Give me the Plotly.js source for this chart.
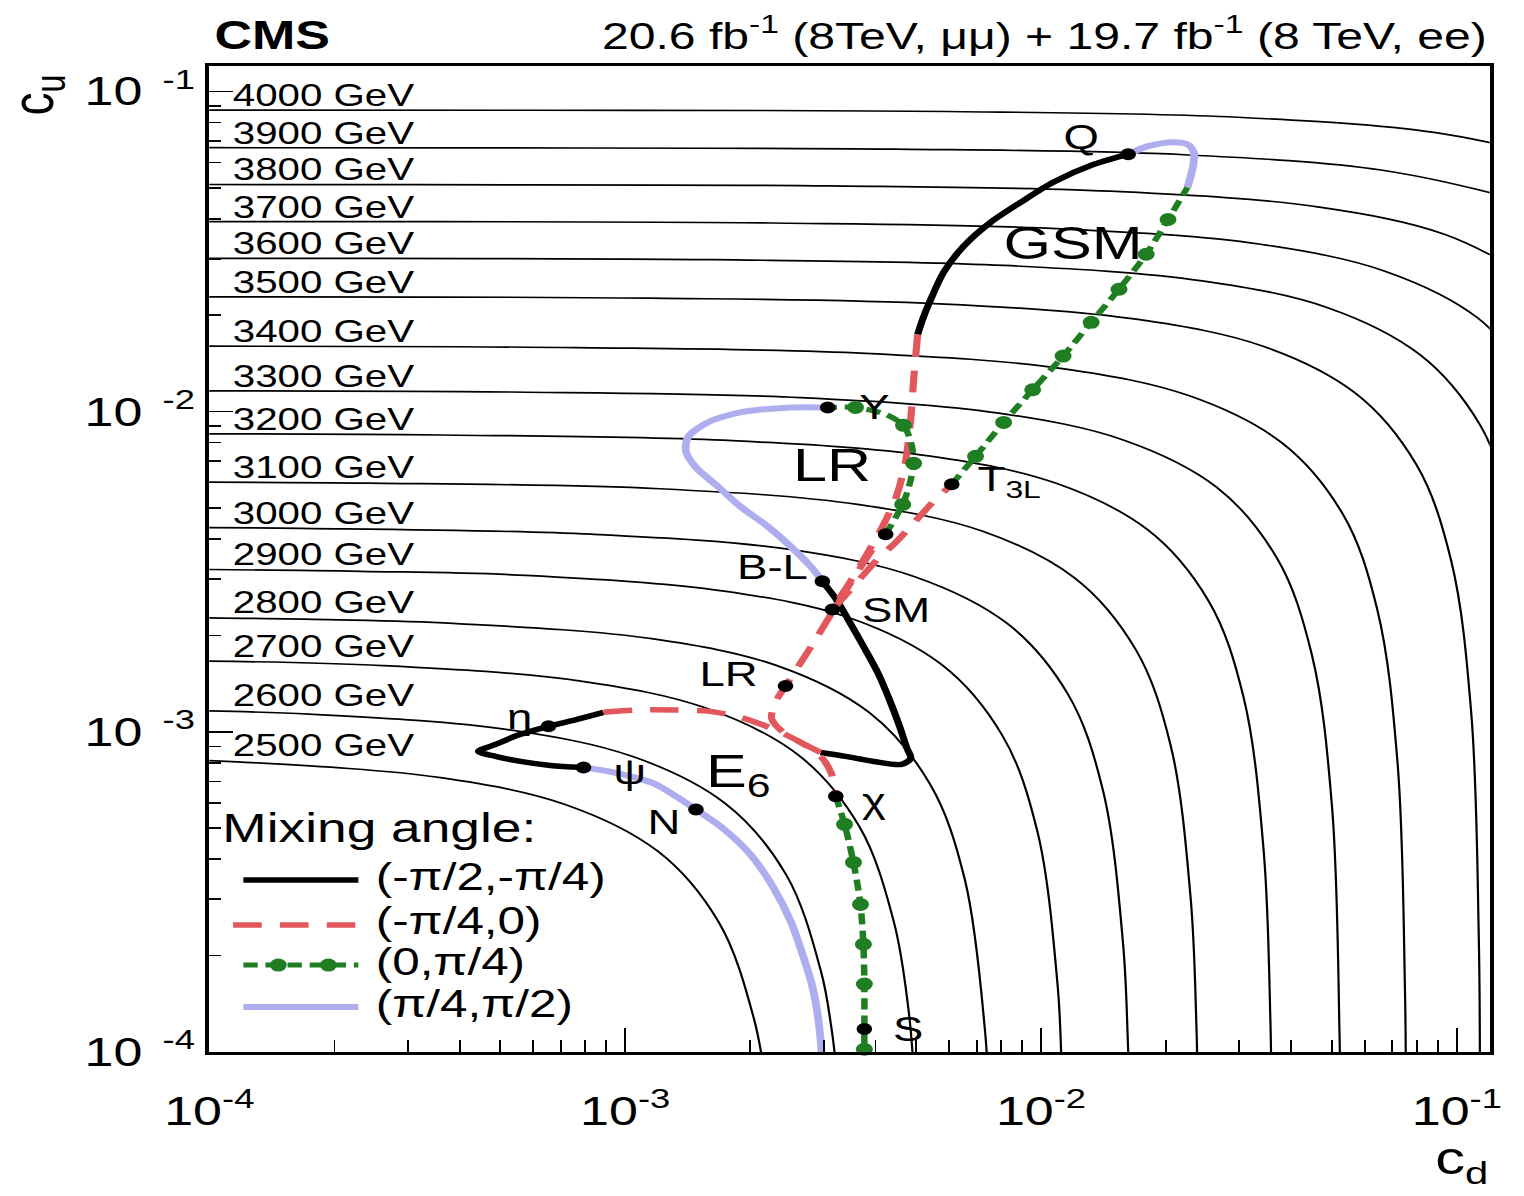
<!DOCTYPE html>
<html>
<head>
<meta charset="utf-8">
<script src="https://cdn.plot.ly/plotly-3.0.1.min.js"></script>
<style>
html, body { margin: 0; padding: 0; background: #ffffff; overflow: hidden; }
#chart { width: 1172px; height: 1196px; transform: scaleX(1.3); transform-origin: 0 0; }
</style>
</head>
<body>
<div id="chart"></div>
<script>
// ---------------- data ----------------
// iso-mass contour lines (c_d, c_u), 4000 GeV ... 2500 GeV
const contourMass = ['4000 GeV','3900 GeV','3800 GeV','3700 GeV','3600 GeV','3500 GeV','3400 GeV','3300 GeV',
                     '3200 GeV','3100 GeV','3000 GeV','2900 GeV','2800 GeV','2700 GeV','2600 GeV','2500 GeV'];
const contourCd = [
  [7.9e-5, 5.93e-4, 5.93e-3, 0.0297, 0.0890, 0.178],
  [7.9e-5, 4.42e-4, 4.42e-3, 0.0221, 0.0663, 0.133],
  [7.9e-5, 3.11e-4, 3.11e-3, 0.01555, 0.0467, 0.0933, 0.1555],
  [7.9e-5, 2.25e-4, 2.25e-3, 0.01123, 0.0337, 0.0674, 0.1123, 0.157],
  [7.9e-5, 1.63e-4, 1.63e-3, 8.15e-3, 0.0244, 0.0489, 0.0815, 0.1140, 0.1385],
  [7.9e-5, 1.14e-3, 5.70e-3, 0.0171, 0.0342, 0.0570, 0.0798, 0.0969, 0.1083, 0.1129, 0.1136],
  [7.9e-5, 7.58e-4, 3.79e-3, 0.01137, 0.02274, 0.0379, 0.0531, 0.0644, 0.0720, 0.0750, 0.0754],
  [7.9e-5, 5.28e-4, 2.64e-3, 7.91e-3, 0.01583, 0.02638, 0.0369, 0.0448, 0.0501, 0.0522, 0.0524],
  [7.9e-5, 3.61e-4, 1.81e-3, 5.42e-3, 0.01084, 0.01807, 0.0253, 0.0307, 0.0343, 0.0356, 0.0358],
  [7.9e-5, 2.41e-4, 1.21e-3, 3.62e-3, 7.24e-3, 0.01206, 0.01688, 0.0205, 0.0229, 0.02364, 0.0238],
  [7.9e-5, 1.66e-4, 8.29e-4, 2.49e-3, 4.97e-3, 8.29e-3, 0.01161, 0.0141, 0.01575, 0.01617, 0.01628],
  [7.9e-5, 2.31e-4, 5.77e-4, 1.73e-3, 3.46e-3, 5.77e-3, 8.08e-3, 9.81e-3, 0.01096, 0.01119, 0.01126],
  [7.9e-5, 1.93e-4, 3.86e-4, 1.158e-3, 2.317e-3, 3.86e-3, 5.40e-3, 6.56e-3, 7.34e-3, 7.46e-3],
  [7.9e-5, 2.61e-4, 7.82e-4, 1.564e-3, 2.606e-3, 3.65e-3, 4.43e-3, 4.80e-3, 4.95e-3],
  [7.9e-5, 1.74e-4, 5.22e-4, 1.043e-3, 1.739e-3, 2.435e-3, 2.956e-3, 3.13e-3, 3.25e-3],
  [7.9e-5, 1.2e-4, 3.6e-4, 7.2e-4, 1.2e-3, 1.68e-3, 2.04e-3, 2.18e-3]
];
const contourCu = [
  [0.0874, 0.0873, 0.0865, 0.0830, 0.0743, 0.0612],
  [0.0667, 0.0666, 0.0660, 0.0634, 0.0567, 0.0467],
  [0.0512, 0.0511, 0.0507, 0.0486, 0.0435, 0.0358, 0.0256],
  [0.0392, 0.0392, 0.0388, 0.0372, 0.0333, 0.0274, 0.0196, 0.01176],
  [0.0301, 0.0301, 0.0298, 0.0286, 0.0256, 0.0211, 0.01505, 0.00903, 0.00452],
  [0.0228, 0.0226, 0.0217, 0.0194, 0.0160, 0.01142, 0.00685, 0.00342, 0.00114, 2.28e-4, 7.9e-5],
  [0.0160, 0.01584, 0.0152, 0.0136, 0.0112, 0.0080, 0.0048, 0.0024, 8.0e-4, 1.6e-4, 7.9e-5],
  [0.01161, 0.01151, 0.01105, 0.00989, 0.00814, 0.00582, 0.00349, 0.00174, 5.82e-4, 1.16e-4, 7.9e-5],
  [0.00852, 0.00845, 0.00811, 0.00726, 0.00598, 0.00427, 0.00256, 0.00128, 4.27e-4, 1.28e-4, 7.9e-5],
  [0.00602, 0.00598, 0.00574, 0.00513, 0.00423, 0.00302, 0.00181, 9.06e-4, 3.02e-4, 1.21e-4, 7.9e-5],
  [0.00434, 0.00432, 0.00414, 0.00371, 0.00305, 0.00218, 0.00131, 6.54e-4, 2.18e-4, 1.09e-4, 7.9e-5],
  [0.00322, 0.00317, 0.00308, 0.00275, 0.00227, 0.00162, 9.72e-4, 4.86e-4, 1.62e-4, 9.7e-5, 7.9e-5],
  [0.002275, 0.00224, 0.00218, 0.001953, 0.001609, 0.001149, 6.89e-4, 3.45e-4, 1.15e-4, 7.9e-5],
  [0.001668, 0.00161, 0.00144, 0.001186, 8.47e-4, 5.08e-4, 2.54e-4, 1.36e-4, 8.47e-5],
  [0.001168, 0.001135, 0.001016, 8.37e-4, 5.98e-4, 3.59e-4, 1.79e-4, 1.2e-4, 7.9e-5],
  [8.18e-4, 8.04e-4, 7.19e-4, 5.92e-4, 4.23e-4, 2.54e-4, 1.27e-4, 7.9e-5]
];

// GSM family
const gsmBlackCd = [1.62e-2, 1.34e-2, 1.07e-2, 8.93e-3, 7.57e-3, 6.51e-3, 5.83e-3, 5.43e-3, 5.19e-3, 5.05e-3];
const gsmBlackCu = [6.36e-2, 5.92e-2, 5.20e-2, 4.50e-2, 3.90e-2, 3.28e-2, 2.72e-2, 2.24e-2, 1.94e-2, 1.74e-2];
const gsmRedCd = [5.05e-3, 4.94e-3, 4.86e-3, 4.72e-3, 4.49e-3, 4.16e-3, 3.81e-3, 3.48e-3, 3.15e-3, 3.44e-3, 3.79e-3, 4.11e-3, 4.47e-3, 4.86e-3, 5.43e-3, 6.10e-3];
const gsmRedCu = [1.74e-2, 1.26e-2, 9.45e-3, 6.94e-3, 5.44e-3, 4.38e-3, 3.58e-3, 2.95e-3, 2.41e-3, 2.73e-3, 3.15e-3, 3.53e-3, 3.90e-3, 4.38e-3, 5.13e-3, 5.93e-3];
const gsmGreenCd = [6.10e-3, 6.96e-3, 8.13e-3, 9.55e-3, 1.13e-2, 1.32e-2, 1.54e-2, 1.79e-2, 2.02e-2, 2.25e-2];
const gsmGreenCu = [5.93e-3, 7.25e-3, 9.25e-3, 1.17e-2, 1.49e-2, 1.90e-2, 2.41e-2, 3.10e-2, 3.98e-2, 5.01e-2];
const gsmBlueCd = [2.25e-2, 2.32e-2, 2.33e-2, 2.25e-2, 2.05e-2, 1.80e-2, 1.62e-2];
const gsmBlueCu = [5.01e-2, 5.83e-2, 6.45e-2, 6.83e-2, 6.93e-2, 6.73e-2, 6.36e-2];

// LR family
const lrBlackCd = [2.98e-3, 3.22e-3, 3.46e-3, 3.74e-3, 4.05e-3, 4.32e-3, 4.57e-3, 4.75e-3, 4.86e-3, 4.62e-3, 3.96e-3, 3.39e-3, 2.95e-3];
const lrBlackCu = [2.95e-3, 2.59e-3, 2.21e-3, 1.85e-3, 1.53e-3, 1.26e-3, 1.04e-3, 8.94e-4, 8.26e-4, 7.91e-4, 8.08e-4, 8.38e-4, 8.62e-4];
const lrRedCd = [2.95e-3, 2.64e-3, 2.39e-3, 2.25e-3, 2.30e-3, 2.43e-3, 2.64e-3, 2.84e-3, 3.05e-3, 3.26e-3, 3.48e-3, 3.72e-3, 3.98e-3, 4.23e-3];
const lrRedCu = [8.62e-4, 9.27e-4, 1.00e-3, 1.10e-3, 1.24e-3, 1.39e-3, 1.64e-3, 1.90e-3, 2.21e-3, 2.54e-3, 2.91e-3, 3.33e-3, 3.79e-3, 4.14e-3];
const lrGreenCd = [4.23e-3, 4.65e-3, 4.83e-3, 4.94e-3, 4.88e-3, 4.67e-3, 4.23e-3, 3.58e-3, 3.07e-3];
const lrGreenCu = [4.14e-3, 5.13e-3, 5.93e-3, 6.89e-3, 7.90e-3, 9.06e-3, 9.80e-3, 1.03e-2, 1.03e-2];
const lrBlueCd = [3.07e-3, 2.50e-3, 1.89e-3, 1.58e-3, 1.42e-3, 1.40e-3, 1.48e-3, 1.67e-3, 1.89e-3, 2.20e-3, 2.50e-3, 2.79e-3, 2.98e-3];
const lrBlueCu = [1.03e-2, 1.03e-2, 9.94e-3, 9.25e-3, 8.37e-3, 7.51e-3, 6.69e-3, 5.84e-3, 5.06e-3, 4.38e-3, 3.79e-3, 3.29e-3, 2.95e-3];

// E6 family
const e6BlackCd = [7.94e-4, 6.61e-4, 5.60e-4, 4.88e-4, 4.44e-4, 4.88e-4, 5.51e-4, 6.54e-4, 7.59e-4, 8.87e-4];
const e6BlackCu = [7.74e-4, 7.85e-4, 8.08e-4, 8.38e-4, 8.69e-4, 9.13e-4, 9.75e-4, 1.04e-3, 1.09e-3, 1.15e-3];
const e6RedCd = [8.87e-4, 1.09e-3, 1.31e-3, 1.58e-3, 1.89e-3, 2.27e-3, 2.64e-3, 2.95e-3, 3.13e-3, 3.21e-3];
const e6RedCu = [1.15e-3, 1.17e-3, 1.17e-3, 1.16e-3, 1.11e-3, 1.02e-3, 9.27e-4, 8.38e-4, 7.42e-4, 6.29e-4];
const e6GreenCd = [3.21e-3, 3.37e-3, 3.54e-3, 3.68e-3, 3.74e-3, 3.76e-3, 3.76e-3, 3.76e-3];
const e6GreenCu = [6.29e-4, 5.14e-4, 3.91e-4, 2.89e-4, 2.17e-4, 1.63e-4, 1.18e-4, 1.02e-4];
const e6BlueCd = [7.94e-4, 9.37e-4, 1.17e-3, 1.48e-3, 1.72e-3, 2.00e-3, 2.27e-3, 2.50e-3, 2.67e-3, 2.81e-3, 2.89e-3, 2.95e-3, 2.98e-3];
const e6BlueCu = [7.74e-4, 7.47e-4, 6.90e-4, 5.72e-4, 4.99e-4, 4.14e-4, 3.27e-4, 2.56e-4, 2.02e-4, 1.63e-4, 1.36e-4, 1.10e-4, 9.15e-5];

// benchmark model points
const pointNames = ['Q', 'T<sub>3L</sub>', 'Y', '', 'B-L', 'SM', 'LR', 'η', 'ψ', 'N', 'χ', 'S'];
const pointCd = [1.62e-2, 6.10e-3, 3.07e-3, 4.23e-3, 2.98e-3, 3.15e-3, 2.43e-3, 6.54e-4, 7.94e-4, 1.48e-3, 3.21e-3, 3.76e-3];
const pointCu = [6.36e-2, 5.93e-3, 1.03e-2, 4.14e-3, 2.95e-3, 2.41e-3, 1.39e-3, 1.04e-3, 7.74e-4, 5.72e-4, 6.29e-4, 1.18e-4];

const legendLabels = ['(-π/2,-π/4)', '(-π/4,0)', '(0,π/4)', '(π/4,π/2)'];
const tickValues = [1e-4, 1e-3, 1e-2, 1e-1];
const xTickLabels = ['10<sup>-4</sup>', '10<sup>-3</sup>', '10<sup>-2</sup>', '10<sup>-1</sup>'];
const yTickLabels = ['10<sup>\u00a0\u00a0-4</sup>', '10<sup>\u00a0\u00a0-3</sup>', '10<sup>\u00a0\u00a0-2</sup>', '10<sup>\u00a0\u00a0-1</sup>'];
const minorTicks = [2e-4,3e-4,4e-4,5e-4,6e-4,7e-4,8e-4,9e-4, 2e-3,3e-3,4e-3,5e-3,6e-3,7e-3,8e-3,9e-3, 2e-2,3e-2,4e-2,5e-2,6e-2,7e-2,8e-2,9e-2];

// ---------------- styles ----------------
const FONT = 'Liberation Sans, Arial, Helvetica, sans-serif';
const C_BLACK = '#000000', C_RED = '#e2575c', C_GREEN = '#1f7d22', C_BLUE = '#aeaeef';
const ST = {
  black: {color: C_BLACK, width: 5.5},
  red:   {color: C_RED, width: 5.5, dash: '22px,14px'},
  green: {color: C_GREEN, width: 5, dash: '11px,6px'},
  blue:  {color: C_BLUE, width: 6}
};

const traces = [];
for (let i = 0; i < contourCd.length; i++) {
  traces.push({x: contourCd[i], y: contourCu[i], type: 'scatter', mode: 'lines',
    line: {color: '#000', width: 1.7, shape: 'spline', smoothing: 1},
    hoverinfo: 'skip', showlegend: false});
}
function modelLine(cd, cu, st) {
  return {x: cd, y: cu, type: 'scatter', mode: 'lines',
    line: Object.assign({shape: 'spline', smoothing: 0.8}, st), hoverinfo: 'skip', showlegend: false};
}
function greenDots(cd, cu, idx) {
  return {x: idx.map(i => cd[i]), y: idx.map(i => cu[i]), type: 'scatter', mode: 'markers',
    marker: {color: C_GREEN, size: 13}, hoverinfo: 'skip', showlegend: false, cliponaxis: false};
}
traces.push(modelLine(gsmBlueCd, gsmBlueCu, ST.blue));
traces.push(modelLine(lrBlueCd, lrBlueCu, ST.blue));
traces.push(modelLine(e6BlueCd, e6BlueCu, ST.blue));
traces.push(modelLine(gsmBlackCd, gsmBlackCu, ST.black));
traces.push(modelLine(lrBlackCd, lrBlackCu, ST.black));
traces.push(modelLine(e6BlackCd, e6BlackCu, ST.black));
traces.push(modelLine(gsmRedCd, gsmRedCu, ST.red));
traces.push(modelLine(lrRedCd, lrRedCu, ST.red));
traces.push(modelLine(e6RedCd, e6RedCu, ST.red));
traces.push(modelLine(gsmGreenCd, gsmGreenCu, ST.green));
traces.push(modelLine(lrGreenCd, lrGreenCu, ST.green));
traces.push(modelLine(e6GreenCd, e6GreenCu, ST.green));
traces.push(greenDots(gsmGreenCd, gsmGreenCu, [1,2,3,4,5,6,7,8]));
traces.push(greenDots(lrGreenCd, lrGreenCu, [1,3,5,7]));
traces.push(greenDots(e6GreenCd, e6GreenCu, [1,2,3,4,5,7]));
traces.push({x: pointCd, y: pointCu, type: 'scatter', mode: 'markers',
  marker: {color: '#000', size: 12}, hoverinfo: 'skip', showlegend: false, cliponaxis: false});

// legend samples on a hidden overlay axis (0..1 range over the plot area)
const legY = [0.1744, 0.1288, 0.0882, 0.0456];
const legX0 = 0.0266, legX1 = 0.1164;
const legStyles = [ST.black, ST.red, ST.green, ST.blue];
legStyles.forEach((st, k) => {
  traces.push({x: [legX0 - (k === 1 ? 0.008 : 0), legX1], y: [legY[k], legY[k]], xaxis: 'x2', yaxis: 'y2',
    type: 'scatter', mode: 'lines', line: Object.assign({}, st), hoverinfo: 'skip', showlegend: false});
});
traces.push({x: [0.0539, 0.0930], y: [legY[2], legY[2]], xaxis: 'x2', yaxis: 'y2', type: 'scatter',
  mode: 'markers', marker: {color: C_GREEN, size: 13}, hoverinfo: 'skip', showlegend: false});

// ---------------- annotations ----------------
const ann = [];
const L10 = Math.log10;
contourMass.forEach((m, i) => {
  ann.push({xref: 'x', yref: 'y', x: L10(1.12e-4), y: L10(contourCu[i][0]), text: m,
    xanchor: 'left', yanchor: 'bottom', yshift: -5, showarrow: false, font: {size: 31, family: FONT, color: '#000'}});
});
const labelStyle = [
  {xa: 'right', dx: -21, dy: 18},  // Q
  {xa: 'left',  dx: 18,  dy: 3},   // T3L
  {xa: 'left',  dx: 22,  dy: 1},   // Y
  null,                            // R (unlabelled)
  {xa: 'right', dx: -10, dy: 15},  // B-L
  {xa: 'left',  dx: 21,  dy: 0},   // SM
  {xa: 'right', dx: -19, dy: 12},  // LR
  {xa: 'right', dx: -11, dy: 10},  // eta
  {xa: 'left',  dx: 21,  dy: -4},  // psi
  {xa: 'right', dx: -10, dy: -12}, // N
  {xa: 'left',  dx: 18,  dy: -4},  // chi
  {xa: 'left',  dx: 20,  dy: 0}    // S
];
pointNames.forEach((nm, i) => {
  const s = labelStyle[i];
  if (!s || !nm) return;
  ann.push({xref: 'x', yref: 'y', x: L10(pointCd[i]), y: L10(pointCu[i]), text: nm,
    xanchor: s.xa, yanchor: 'middle', xshift: s.dx, yshift: s.dy, showarrow: false,
    font: {size: 35, family: FONT, color: '#000'}});
});
// family names
ann.push({xref: 'x', yref: 'y', x: L10(0.01191), y: L10(0.03376), text: 'GSM', showarrow: false,
  xanchor: 'center', yanchor: 'middle', font: {size: 47, family: FONT, color: '#000'}});
ann.push({xref: 'x', yref: 'y', x: L10(3.134e-3), y: L10(6.84e-3), text: 'LR', showarrow: false,
  xanchor: 'center', yanchor: 'middle', font: {size: 47, family: FONT, color: '#000'}});
ann.push({xref: 'x', yref: 'y', x: L10(1.543e-3), y: L10(7.36e-4), text: 'E<sub>6</sub>', xanchor: 'left',
  yanchor: 'middle', showarrow: false, font: {size: 47, family: FONT, color: '#000'}});
// header
ann.push({xref: 'paper', yref: 'paper', x: 0.0023, y: 1.0067, xanchor: 'left', yanchor: 'bottom',
  text: '<b>CMS</b>', showarrow: false, font: {size: 40, family: FONT, color: '#000'}});
ann.push({xref: 'paper', yref: 'paper', x: 1.0, y: 1.0067, xanchor: 'right', yanchor: 'bottom',
  text: '20.6 fb<sup>-1</sup> (8TeV, μμ) + 19.7 fb<sup>-1</sup> (8 TeV, ee)', showarrow: false,
  font: {size: 37, family: FONT, color: '#000'}});
// axis titles
ann.push({xref: 'paper', yref: 'paper', x: -0.1344, y: 0.9706, xanchor: 'center', yanchor: 'middle',
  text: 'c<sub>u</sub>', textangle: -90, showarrow: false, font: {size: 46, family: FONT, color: '#000'}});
ann.push({xref: 'paper', yref: 'paper', x: 0.978, y: -0.1115, xanchor: 'center', yanchor: 'middle',
  text: 'c<sub>d</sub>', showarrow: false, font: {size: 46, family: FONT, color: '#000'}});
// legend texts
ann.push({xref: 'paper', yref: 'paper', x: 0.0086, y: 0.2272, xanchor: 'left', yanchor: 'middle',
  text: 'Mixing angle:', showarrow: false, font: {size: 41, family: FONT, color: '#000'}});
const legTextY = [0.1775, 0.1329, 0.0913, 0.0487];
legendLabels.forEach((t, k) => {
  ann.push({xref: 'paper', yref: 'paper', x: 0.128, y: legTextY[k], xanchor: 'left', yanchor: 'middle',
    text: t, showarrow: false, font: {size: 38, family: FONT, color: '#000'}});
});

const axisCommon = {
  type: 'log', range: [-4, Math.log10(0.12)], tickmode: 'array', tickvals: tickValues,
  ticks: 'inside', tickwidth: 1.5, tickcolor: '#000', showline: true, linewidth: 3, linecolor: '#000',
  mirror: true, showgrid: false, zeroline: false, tickfont: {size: 40, family: FONT, color: '#000'},
  fixedrange: true
};
const layout = {
  width: 1172, height: 1196,
  margin: {l: 161, r: 26, t: 66, b: 144, pad: 0},
  paper_bgcolor: '#ffffff', plot_bgcolor: '#ffffff',
  showlegend: false,
  font: {family: FONT, color: '#000'},
  xaxis: Object.assign({}, axisCommon, {ticktext: xTickLabels, ticklen: 24, ticklabelstandoff: 22,
    minor: {tickmode: 'array', tickvals: minorTicks, ticks: 'inside', ticklen: 12, tickwidth: 1.5, tickcolor: '#000', showgrid: false}}),
  yaxis: Object.assign({}, axisCommon, {ticktext: yTickLabels, ticklen: 18, ticklabelstandoff: 0,
    minor: {tickmode: 'array', tickvals: minorTicks, ticks: 'inside', ticklen: 9, tickwidth: 1.5, tickcolor: '#000', showgrid: false}}),
  xaxis2: {overlaying: 'x', anchor: 'y2', range: [0, 1], visible: false, fixedrange: true},
  yaxis2: {overlaying: 'y', anchor: 'x2', range: [0, 1], visible: false, fixedrange: true},
  annotations: ann
};
Plotly.newPlot('chart', traces, layout, {displayModeBar: false, staticPlot: true});
</script>
</body>
</html>
